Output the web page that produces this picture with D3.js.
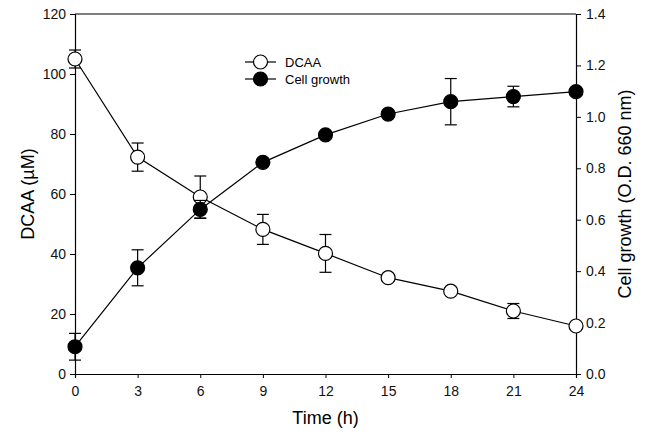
<!DOCTYPE html>
<html>
<head>
<meta charset="utf-8">
<script src="https://cdn.jsdelivr.net/npm/d3@7"></script>
<style>
  body { margin: 0; background: #fff; }
  svg { display: block; font-family: Arial, "Liberation Sans", sans-serif; }
</style>
</head>
<body>
<svg id="chart" width="645" height="441"></svg>
<script>
// time points (h)
const hours = [0, 3, 6, 9, 12, 15, 18, 21, 24];
// DCAA concentration (uM), left axis
const dcaa = [105, 72.3, 59, 48.2, 40.2, 32.1, 27.6, 21, 16];
const dcaaErr = [3, 4.7, 7, 5, 6.3, 1, 1, 2.5, 1];
// cell growth (O.D. 660 nm), right axis
const growth = [0.106, 0.413, 0.64, 0.823, 0.93, 1.011, 1.059, 1.079, 1.098];
const growthErr = [0.052, 0.07, 0.035, 0, 0, 0, 0.09, 0.04, 0];
const xTicks = [0, 3, 6, 9, 12, 15, 18, 21, 24];
const leftTicks = [0, 20, 40, 60, 80, 100, 120];
const rightTicks = [0, 0.2, 0.4, 0.6, 0.8, 1.0, 1.2, 1.4];

const svg = d3.select("#chart");
const margin = { top: 14, right: 69, bottom: 67, left: 75 };
const W = 645, H = 441;

const x = d3.scaleLinear().domain([0, 24]).range([margin.left, W - margin.right]);
const yL = d3.scaleLinear().domain([0, 120]).range([H - margin.bottom, margin.top]);
const yR = d3.scaleLinear().domain([0, 1.4]).range([H - margin.bottom, margin.top]);

const fs = 14;

// frame lines top and bottom
svg.append("line")
  .attr("x1", x(0)).attr("x2", x(24)).attr("y1", yL(120)).attr("y2", yL(120))
  .attr("stroke", "#000").attr("stroke-width", 1.2);

svg.append("g")
  .attr("transform", `translate(0,${yL(0)})`)
  .call(d3.axisBottom(x).tickValues(xTicks).tickSize(4).tickPadding(8).tickFormat(d3.format("d")))
  .call(g => g.selectAll("text").attr("font-size", fs).attr("fill", "#111"));

svg.append("g")
  .attr("transform", `translate(${x(0)},0)`)
  .call(d3.axisLeft(yL).tickValues(leftTicks).tickSize(5).tickPadding(4).tickFormat(d3.format("d")))
  .call(g => g.selectAll("text").attr("font-size", fs).attr("fill", "#111"));

svg.append("g")
  .attr("transform", `translate(${x(24)},0)`)
  .call(d3.axisRight(yR).tickValues(rightTicks).tickSize(5).tickPadding(5).tickFormat(d3.format(".1f")))
  .call(g => g.selectAll("text").attr("font-size", fs).attr("fill", "#111"));

svg.selectAll(".domain").attr("stroke-width", 1.2);

// axis titles
svg.append("text")
  .attr("x", (x(0) + x(24)) / 2).attr("y", 424)
  .attr("text-anchor", "middle").attr("font-size", 18)
  .text("Time (h)");

svg.append("text")
  .attr("transform", `translate(34,${(yL(0) + yL(120)) / 2}) rotate(-90)`)
  .attr("text-anchor", "middle").attr("font-size", 18)
  .text("DCAA (\u00b5M)");

svg.append("text")
  .attr("transform", `translate(631,${(yL(0) + yL(120)) / 2}) rotate(-90)`)
  .attr("text-anchor", "middle").attr("font-size", 18)
  .text("Cell growth (O.D. 660 nm)");

function series(vals, errs, yScale, fill) {
  const pts = hours.map((h, i) => ({ h, v: vals[i], e: errs[i] }));
  const g = svg.append("g");
  g.append("path")
    .datum(pts)
    .attr("fill", "none").attr("stroke", "#000").attr("stroke-width", 1.2)
    .attr("d", d3.line().x(d => x(d.h)).y(d => yScale(d.v)));
  const eb = g.selectAll("g.err").data(pts.filter(d => d.e > 0)).join("g").attr("class", "err")
    .attr("stroke", "#000").attr("stroke-width", 1.2);
  eb.append("line")
    .attr("x1", d => x(d.h)).attr("x2", d => x(d.h))
    .attr("y1", d => yScale(d.v - d.e)).attr("y2", d => yScale(d.v + d.e));
  [1, -1].forEach(s => {
    eb.append("line")
      .attr("x1", d => x(d.h) - 6).attr("x2", d => x(d.h) + 6)
      .attr("y1", d => yScale(d.v + s * d.e)).attr("y2", d => yScale(d.v + s * d.e));
  });
  g.selectAll("circle").data(pts).join("circle")
    .attr("cx", d => x(d.h)).attr("cy", d => yScale(d.v))
    .attr("r", 7).attr("fill", fill).attr("stroke", "#000").attr("stroke-width", 1.2);
}

series(dcaa, dcaaErr, yL, "#fff");
series(growth, growthErr, yR, "#000");

// legend
const legend = [
  { label: "DCAA", fill: "#fff" },
  { label: "Cell growth", fill: "#000" }
];
const lg = svg.append("g").attr("transform", "translate(245,62)");
legend.forEach((d, i) => {
  const row = lg.append("g").attr("transform", `translate(0,${i * 17})`);
  row.append("line").attr("x1", 0).attr("x2", 31).attr("y1", 0).attr("y2", 0)
    .attr("stroke", "#000").attr("stroke-width", 1.2);
  row.append("circle").attr("cx", 15.5).attr("cy", 0).attr("r", 7)
    .attr("fill", d.fill).attr("stroke", "#000").attr("stroke-width", 1.2);
  row.append("text").attr("x", 40).attr("y", 5).attr("font-size", 13).text(d.label);
});
</script>
</body>
</html>
